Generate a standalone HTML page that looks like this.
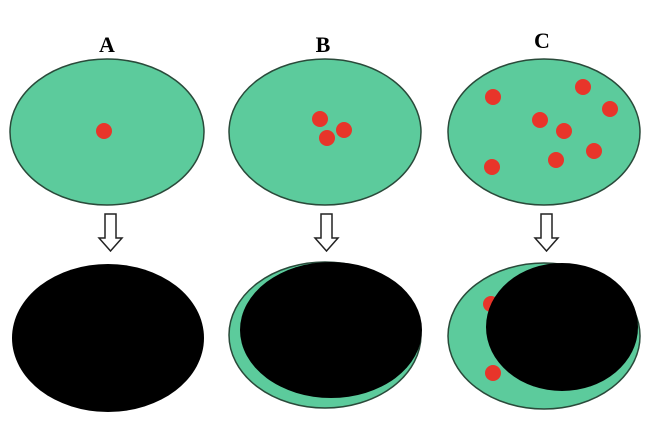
<!DOCTYPE html>
<html><head><meta charset="utf-8"><style>html,body{margin:0;padding:0;background:#fff}svg{display:block}</style></head>
<body>
<svg width="654" height="426" viewBox="0 0 654 426" xmlns="http://www.w3.org/2000/svg">
<g font-family="Liberation Serif, serif" font-weight="bold" font-size="22" text-anchor="middle" fill="#000">
<text x="107" y="52">A</text><text x="323" y="52">B</text><text x="542" y="48">C</text>
</g>
<g fill="#5ccb9c" stroke="#2a4a3a" stroke-width="1.5">
<ellipse cx="107" cy="132" rx="97" ry="73"/>
<ellipse cx="325" cy="132" rx="96" ry="73"/>
<ellipse cx="544" cy="132" rx="96" ry="73"/>
<ellipse cx="325" cy="335" rx="96" ry="73"/>
<ellipse cx="544" cy="336" rx="96" ry="73"/>
</g>
<g fill="#e8352a">
<circle cx="104" cy="131" r="8"/>
<circle cx="320" cy="119" r="8"/><circle cx="344" cy="130" r="8"/><circle cx="327" cy="138" r="8"/>
<circle cx="493" cy="97" r="8"/><circle cx="583" cy="87" r="8"/><circle cx="610" cy="109" r="8"/>
<circle cx="540" cy="120" r="8"/><circle cx="564" cy="131" r="8"/><circle cx="594" cy="151" r="8"/>
<circle cx="556" cy="160" r="8"/><circle cx="492" cy="167" r="8"/>
<circle cx="491" cy="304" r="8"/><circle cx="493" cy="373" r="8"/>
</g>
<g fill="#000">
<ellipse cx="108" cy="338" rx="96" ry="74"/>
<ellipse cx="331" cy="330" rx="91" ry="68"/>
<ellipse cx="562" cy="327" rx="76" ry="64"/>
</g>
<g fill="#fff" stroke="#222" stroke-width="1.5">
<path d="M105,214 H116 V238 H122 L110.5,251 L99,238 H105 Z"/>
<path d="M321,214 H332 V238 H338 L326.5,251 L315,238 H321 Z"/>
<path d="M541,214 H552 V238 H558 L546.5,251 L535,238 H541 Z"/>
</g>
</svg>
</body></html>
